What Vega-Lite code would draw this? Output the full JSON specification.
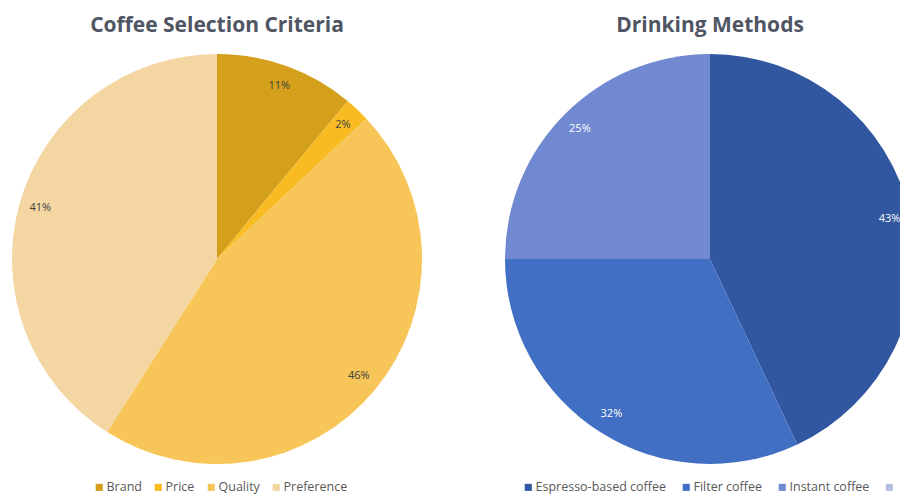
{
  "$schema": "https://vega.github.io/schema/vega-lite/v6.json",
  "background": "white",
  "padding": {"top": 15, "left": 0, "right": 0, "bottom": 0},
  "spacing": 59,
  "config": {
    "view": {"stroke": null},
    "font": "Open Sans",
    "title": {"fontSize": 21, "fontWeight": "bold", "color": "#4f5563", "anchor": "middle", "offset": 18},
    "legend": {
      "orient": "none",
      "direction": "horizontal",
      "symbolType": "square",
      "symbolSize": 50,
      "labelFontSize": 12.5,
      "labelColor": "#595959",
      "columnPadding": 10,
      "labelOffset": 1,
      "labelLimit": 300,
      "title": null
    }
  },
  "hconcat": [
    {
      "title": "Coffee Selection Criteria",
      "width": 434,
      "height": 410,
      "data": {"values": [
        {"cat": "Brand", "value": 11, "order": 1, "label": "11%"},
        {"cat": "Price", "value": 2, "order": 2, "label": "2%"},
        {"cat": "Quality", "value": 46, "order": 3, "label": "46%"},
        {"cat": "Preference", "value": 41, "order": 4, "label": "41%"}
      ]},
      "encoding": {
        "theta": {"field": "value", "type": "quantitative", "stack": true},
        "order": {"field": "order", "type": "quantitative", "sort": "ascending"}
      },
      "layer": [
        {
          "mark": {"type": "arc", "outerRadius": 205},
          "encoding": {
            "color": {
              "field": "cat", "type": "nominal",
              "scale": {"domain": ["Brand", "Price", "Quality", "Preference"], "range": ["#d4a01c", "#f8bb22", "#f7c558", "#f4d6a2"]},
              "legend": {"legendX": 93, "legendY": 427, "columnPadding": 10}
            }
          }
        },
        {
          "mark": {"type": "text", "radius": 184, "fontSize": 11, "align": "center", "baseline": "middle"},
          "encoding": {
            "detail": {"field": "cat", "type": "nominal"},
            "color": {"value": "#404040"},
            "text": {"field": "label", "type": "nominal"}
          }
        }
      ]
    },
    {
      "title": "Drinking Methods",
      "width": 434,
      "height": 410,
      "data": {"values": [
        {"cat": "Espresso-based coffee", "value": 43, "order": 1, "label": "43%"},
        {"cat": "Filter coffee", "value": 32, "order": 2, "label": "32%"},
        {"cat": "Instant coffee", "value": 25, "order": 3, "label": "25%"},
        {"cat": "Other", "value": 0, "order": 4, "label": ""}
      ]},
      "encoding": {
        "theta": {"field": "value", "type": "quantitative", "stack": true},
        "order": {"field": "order", "type": "quantitative", "sort": "ascending"}
      },
      "layer": [
        {
          "mark": {"type": "arc", "outerRadius": 205},
          "encoding": {
            "color": {
              "field": "cat", "type": "nominal",
              "scale": {"domain": ["Espresso-based coffee", "Filter coffee", "Instant coffee", "Other"], "range": ["#30579f", "#416fc4", "#7089d1", "#b4bee2"]},
              "legend": {"legendX": 29, "legendY": 427, "columnPadding": 13, "labelExpr": "datum.label == 'Other' ? '' : datum.label"}
            }
          }
        },
        {
          "mark": {"type": "text", "radius": 184, "fontSize": 11, "align": "center", "baseline": "middle"},
          "encoding": {
            "detail": {"field": "cat", "type": "nominal"},
            "color": {"value": "#ffffff"},
            "text": {"field": "label", "type": "nominal"}
          }
        }
      ]
    }
  ],
  "resolve": {"scale": {"color": "independent"}, "legend": {"color": "independent"}}
}
